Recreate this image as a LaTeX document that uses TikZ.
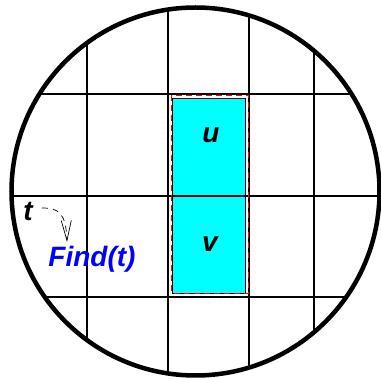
\documentclass[tikz,border=0pt]{standalone}
\usepackage{fontspec}
\setmainfont{Liberation Sans}
\usetikzlibrary{arrows.meta}
\definecolor{aqua}{RGB}{0,255,255}
\definecolor{pureblue}{RGB}{0,0,255}
\definecolor{purered}{RGB}{255,0,0}
\tikzset{
  lbl/.style={font=\fontsize{28}{30}\selectfont\bfseries\itshape, inner sep=0pt},
  gridline/.style={line width=2pt, black},
}
\begin{document}
\begin{tikzpicture}[x=1pt,y=-1pt]
\useasboundingbox (0,0) rectangle (381,379);
\coordinate (c) at (195.5,191.5);
\begin{scope}
  \clip (c) circle[radius=184];
  \foreach \x in {87,168,249,314} \draw[gridline] (\x,0) -- (\x,379);
  \foreach \y in {94,196,297} \draw[gridline] (0,\y) -- (381,\y);
\end{scope}
\node[draw=black, line width=0.8pt, fill=aqua, minimum width=73.5pt, minimum height=195pt, inner sep=0pt] (rect) at (208.8,195.5) {};
\draw[gridline] (172.5,196) -- (245.5,196);
\draw[purered, line width=1.3pt, dash pattern=on 6pt off 4pt] (171.5,95.5) rectangle (248.5,293.5);
\draw[line width=4.5pt] (c) circle[radius=184];
\node[lbl] (u) at (211,135) {u};
\node[lbl] (v) at (210,244) {v};
\node[lbl] (t) at (28,211) {t};
\node[lbl, text=pureblue] (find) at (92,259) {Find(t)};
\coordinate (tip) at (67,242);
\draw[line width=0.7pt, dash pattern=on 6pt off 5pt, -{Straight Barb[length=20pt,width=10pt,line width=0.7pt]}] (42,208) .. controls (58,208) and (66,212) .. (tip);
\end{tikzpicture}
\end{document}
